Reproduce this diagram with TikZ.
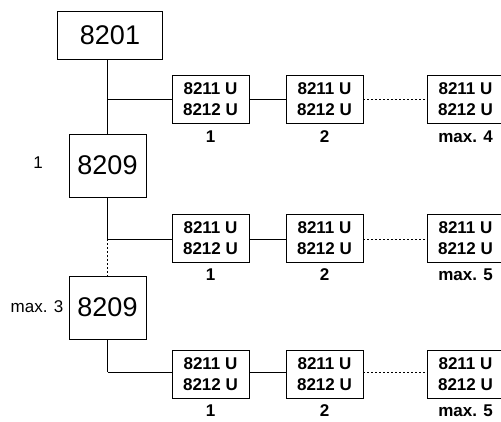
\documentclass[tikz,border=0pt]{standalone}
\usepackage{fontspec}
\setmainfont{Liberation Sans}
\usetikzlibrary{positioning}
\tikzset{
  ctrl/.style={draw=black,line width=0.9pt,minimum width=105pt,minimum height=48pt,inner sep=0pt,font=\fontsize{27}{30}\selectfont},
  ext/.style={draw=black,line width=0.9pt,minimum width=77pt,minimum height=63pt,inner sep=0pt,font=\fontsize{27}{30}\selectfont},
  unit/.style={draw=black,line width=0.9pt,minimum width=77pt,minimum height=48pt,inner sep=0pt,align=center,font=\fontsize{17}{21}\selectfont\bfseries},
}
\tikzset{num/.style={inner sep=0pt,font=\fontsize{17}{21}\selectfont\bfseries}, side/.style={inner sep=0pt,font=\fontsize{17}{21}\selectfont}, wire/.style={draw=black,line width=0.9pt}, dots/.style={draw=black,line width=0.9pt,dash pattern=on 2pt off 2pt}}

\begin{document}
\begin{tikzpicture}[x=1pt,y=-1pt]
\useasboundingbox (0,0) rectangle (501,421);
\node[ctrl] (m) at (110,35) {8201};
\node[ext] (e1) at (107.5,165.5) {8209};
\node[ext] (e2) at (107.5,307.5) {8209};
\coordinate (ja) at (107.5,99);
\coordinate (jb) at (107.5,239);
\coordinate (jc) at (107.5,372);
\node[unit] (a1) at (210.5,99) {8211 U\\8212 U};
\node[unit] (a2) at (324.5,99) {8211 U\\8212 U};
\node[unit] (a3) at (465.5,99) {8211 U\\8212 U};
\node[unit] (b1) at (210.5,238) {8211 U\\8212 U};
\node[unit] (b2) at (324.5,238) {8211 U\\8212 U};
\node[unit] (b3) at (465.5,238) {8211 U\\8212 U};
\node[unit] (c1) at (210.5,374) {8211 U\\8212 U};
\node[unit] (c2) at (324.5,374) {8211 U\\8212 U};
\node[unit] (c3) at (465.5,374) {8211 U\\8212 U};
\draw[wire] (e1.north |- m.south)--(e1.north);
\draw[wire] (e1.south)--(jb);
\draw[dots] (jb)--(e2.north);
\draw[wire] (e2.south)--(jc);
\draw[wire] (ja)--(ja -| a1.west);
\draw[wire] (jb)--(jb -| b1.west);
\draw[wire] (jc)--(jc -| c1.west);
\draw[wire] (a1.east |- ja)--(a2.west |- ja);
\draw[wire] (b1.east |- jb)--(b2.west |- jb);
\draw[wire] (c1.east |- jc)--(c2.west |- jc);
\draw[dots] (a2.east |- ja)--(a3.west |- ja);
\draw[dots] (b2.east |- jb)--(b3.west |- jb);
\draw[dots] (c2.east |- jc)--(c3.west |- jc);
\node[num,below=7pt of a1] {1};
\node[num,below=7pt of a2] {2};
\node[num,below=7pt of a3] {max. 4};
\node[num,below=6pt of b1] {1};
\node[num,below=6pt of b2] {2};
\node[num,below=6pt of b3] {max. 5};
\node[num,below=6pt of c1] {1};
\node[num,below=6pt of c2] {2};
\node[num,below=6pt of c3] {max. 5};
\node[side] (l1) at (38,163) {1};
\node[side] (l2) at (37,307) {max. 3};
\end{tikzpicture}
\end{document}
